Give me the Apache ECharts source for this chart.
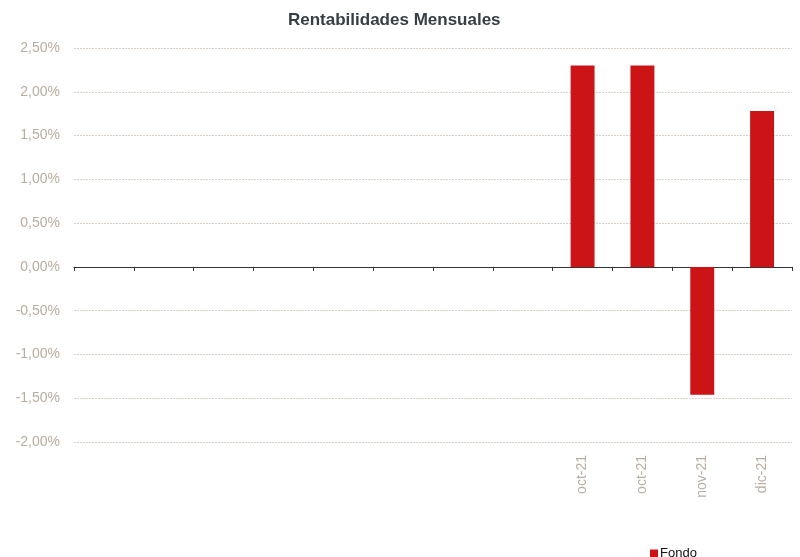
<!DOCTYPE html>
<html><head><meta charset="utf-8">
<script src="https://cdn.jsdelivr.net/npm/echarts@6/dist/echarts.min.js"></script>
<style>html,body{margin:0;padding:0;background:#fff}#c{width:800px;height:557px}</style>
</head><body><div id="c"></div>
<script>
const categories = ['', '', '', '', '', '', '', '', 'oct-21', 'oct-21', 'nov-21', 'dic-21'];
const fondo = [null, null, null, null, null, null, null, null, 2.30, 2.30, -1.46, 1.78];
const seriesName = 'Fondo';
const chartTitle = 'Rentabilidades Mensuales';

const font = 'Liberation Sans, Arial, sans-serif';
const chart = echarts.init(document.getElementById('c'));
chart.setOption({
  animation: false,
  title: { text: chartTitle, left: 283, top: 7, textStyle: { fontFamily: font, fontSize: 17, fontWeight: 'bold', color: '#353f45' } },
  legend: { top: 542, left: 645, itemWidth: 8, itemHeight: 8, itemGap: 4, icon: 'rect',
    textStyle: { fontFamily: font, fontSize: 13, color: '#111', padding: [0,0,0,-3] }, data: [seriesName] },
  grid: { left: 74, right: 8, top: 48, bottom: 115 },
  xAxis: [
    { type: 'category', data: categories, boundaryGap: true,
      axisLine: { onZero: true, lineStyle: { color: '#333', width: 1 } },
      axisTick: { show: true, length: 4, lineStyle: { color: '#333' } },
      axisLabel: { show: false }, splitLine: { show: false } },
    { type: 'category', data: categories, position: 'bottom', boundaryGap: true,
      axisLine: { show: false, onZero: false }, axisTick: { show: false },
      axisLabel: { rotate: 90, margin: 13, fontFamily: font, fontSize: 14, color: '#b9ada0', interval: 0 } }
  ],
  yAxis: { type: 'value', min: -2, max: 2.5, interval: 0.5,
    axisLine: { show: false }, axisTick: { show: false },
    axisLabel: { margin: 14, fontFamily: font, fontSize: 14, color: '#b9ada0',
      formatter: v => v.toFixed(2).replace('.', ',') + '%' },
    splitLine: { lineStyle: { color: '#d9d0c8', type: [2, 1], width: 1 } } },
  series: [{ name: seriesName, type: 'bar', xAxisIndex: 0, data: fondo, barWidth: '40%',
    itemStyle: { color: '#cc1417' } }]
});
</script></body></html>
